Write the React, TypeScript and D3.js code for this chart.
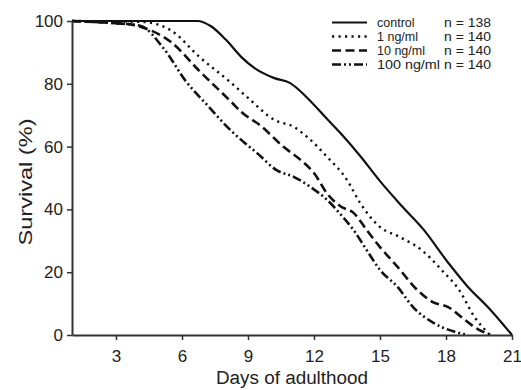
import React, { useEffect, useRef } from "react";
import * as d3 from "d3";

// survival curves (day, % alive)
const controlDays = [1, 6.7, 7.3, 8.0, 8.7, 9.3, 10.2, 10.9, 11.7, 12.5, 13.2, 14.1, 15.0, 16.0, 17.0, 18.1, 19.0, 19.9, 21];
const controlSurv = [100, 100, 98.4, 94, 88.5, 85, 81.8, 80.3, 75.5, 69.5, 64.3, 57, 49, 41, 33.4, 23, 15.3, 8.9, 0];

const ng1Days = [1, 4.2, 5.5, 6.8, 8.2, 9.0, 10.2, 11.1, 11.7, 12.6, 13.5, 14.1, 15.0, 15.9, 16.9, 17.8, 18.6, 19.3, 20.0];
const ng1Surv = [100, 99.7, 97, 88.5, 80.5, 75.5, 68.5, 66.2, 63, 56.7, 49.4, 42, 34.4, 31.2, 27, 20.7, 14.3, 5.7, 0];

const ng10Days = [1, 2.7, 3.6, 4.1, 5.5, 6.8, 8.2, 8.7, 9.6, 10.6, 11.4, 12.0, 12.6, 13.2, 13.8, 14.4, 15.0, 15.8, 16.7, 17.4, 18.1, 18.7, 19.3, 20.0];
const ng10Surv = [100, 99.4, 99, 98.2, 93.3, 84, 74.5, 71, 66.5, 60, 55.7, 51.6, 45, 41, 38.9, 33.4, 28, 21.7, 14.3, 10.5, 8.9, 5.7, 2.5, 0];

const ng100Days = [1, 2.7, 4.1, 5.15, 6.2, 7.15, 8.3, 8.8, 9.4, 10.3, 11.1, 11.85, 12.6, 13.2, 13.8, 14.4, 15.0, 15.8, 16.5, 17.45, 18.4, 19.0];
const ng100Surv = [100, 99.4, 98.5, 91.4, 80.6, 73.2, 64.6, 61.5, 58, 52.5, 50.3, 47.1, 43, 38.5, 33.4, 27, 20.7, 15.3, 8.9, 3.8, 1, 0];

const groupLabels = ["control", "1 ng/ml", "10 ng/ml", "100 ng/ml"];
const groupN = ["n = 138", "n = 140", "n = 140", "n = 140"];

const xTicks = [3, 6, 9, 12, 15, 18, 21];
const yTicks = [0, 20, 40, 60, 80, 100];

const FONT = "'Liberation Sans', Arial, Helvetica, sans-serif";

export default function App() {
    const ref = useRef<SVGSVGElement>(null);

    useEffect(() => {
        const svg = d3.select(ref.current);
        svg.selectAll("*").remove();

        const x = d3.scaleLinear().domain([1, 21]).range([72, 512]);
        const y = d3.scaleLinear().domain([0, 100]).range([335, 21]);

        const series = [
            { days: controlDays, surv: controlSurv, dash: null, w: 2.2 },
            { days: ng1Days, surv: ng1Surv, dash: "2.2 4.3", w: 2.4 },
            { days: ng10Days, surv: ng10Surv, dash: "9 4.5", w: 2.6 },
            { days: ng100Days, surv: ng100Surv, dash: "9 3 2 3 2 3", w: 2.6 },
        ];

        const line = d3.line<[number, number]>()
            .x(d => x(d[0]))
            .y(d => y(d[1]))
            .curve(d3.curveMonotoneX);

        series.forEach(s => {
            const pts = s.days.map((d, i) => [d, s.surv[i]] as [number, number]);
            svg.append("path")
                .attr("d", line(pts))
                .attr("fill", "none")
                .attr("stroke", "#111")
                .attr("stroke-width", s.w)
                .attr("stroke-dasharray", s.dash);
        });

        // axes
        const xAxis = svg.append("g")
            .attr("transform", `translate(0,${y(0)})`)
            .call(d3.axisBottom(x).tickValues(xTicks).tickSize(5).tickSizeOuter(0).tickPadding(10));
        const yAxis = svg.append("g")
            .attr("transform", `translate(${x(1)},0)`)
            .call(d3.axisLeft(y).tickValues(yTicks).tickSize(5).tickSizeOuter(0).tickPadding(4));

        [xAxis, yAxis].forEach(a => {
            a.select(".domain").attr("stroke", "#333").attr("stroke-width", 2);
            a.selectAll(".tick line").attr("stroke", "#333").attr("stroke-width", 1.5);
            a.selectAll(".tick text")
                .attr("font-family", FONT)
                .attr("font-size", 17)
                .attr("fill", "#222");
        });

        svg.append("text")
            .attr("x", 292)
            .attr("y", 384)
            .attr("text-anchor", "middle")
            .attr("font-family", FONT)
            .attr("font-size", 18)
            .attr("fill", "#222")
            .attr("textLength", 152)
            .attr("lengthAdjust", "spacingAndGlyphs")
            .text("Days of adulthood");

        svg.append("text")
            .attr("transform", `translate(32,182) rotate(-90)`)
            .attr("text-anchor", "middle")
            .attr("font-family", FONT)
            .attr("font-size", 18)
            .attr("fill", "#222")
            .attr("textLength", 127)
            .attr("lengthAdjust", "spacingAndGlyphs")
            .text("Survival (%)");

        // legend
        const lg = svg.append("g");
        series.forEach((s, i) => {
            const base = 27 + i * 14;
            lg.append("line")
                .attr("x1", 332).attr("x2", 367)
                .attr("y1", base - 4.5).attr("y2", base - 4.5)
                .attr("stroke", "#111")
                .attr("stroke-width", s.w)
                .attr("stroke-dasharray", s.dash);
            lg.append("text")
                .attr("x", 377).attr("y", base)
                .attr("font-family", FONT).attr("font-size", 12.5).attr("fill", "#222")
                .attr("textLength", i === 3 ? 63 : null)
                .attr("lengthAdjust", "spacingAndGlyphs")
                .text(groupLabels[i]);
            lg.append("text")
                .attr("x", 444).attr("y", base)
                .attr("font-family", FONT).attr("font-size", 12.5).attr("fill", "#222")
                .attr("textLength", 47)
                .attr("lengthAdjust", "spacingAndGlyphs")
                .text(groupN[i]);
        });
    }, []);

    return (
        <svg ref={ref} width={521} height={390}
            style={{ position: "absolute", left: 0, top: 0, background: "#fff" }} />
    );
}
